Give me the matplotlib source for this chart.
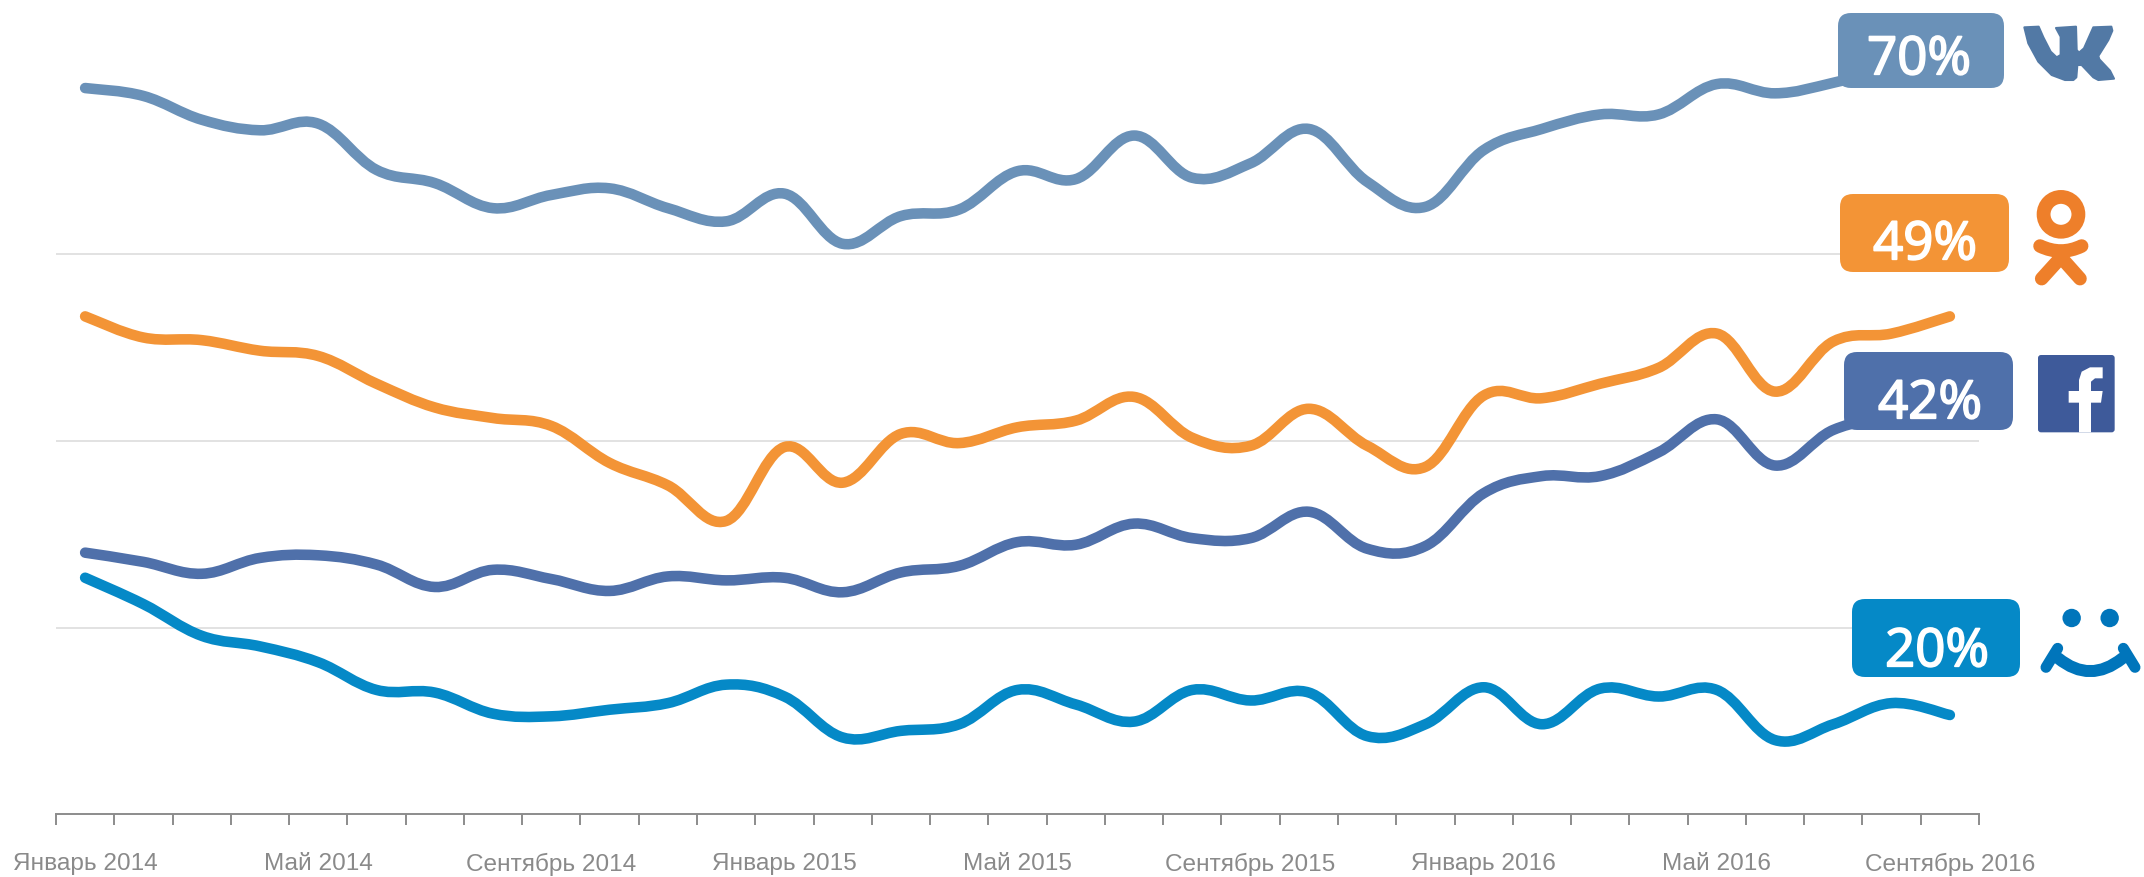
import matplotlib
matplotlib.use("Agg")
import matplotlib.pyplot as plt
import matplotlib.patheffects as pe
import numpy as np
from matplotlib.patches import Circle, FancyBboxPatch, PathPatch, Polygon
from matplotlib.path import Path

# Werte pro Monat, Januar 2014 bis September 2016
months = ["Январь 2014", "", "", "", "Май 2014", "", "", "", "Сентябрь 2014", "", "", "",
          "Январь 2015", "", "", "", "Май 2015", "", "", "", "Сентябрь 2015", "", "", "",
          "Январь 2016", "", "", "", "Май 2016", "", "", "", "Сентябрь 2016"]
vk = [67.5, 66.9, 65.1, 64.3, 64.8, 61.3, 60.3, 58.4, 59.4, 59.9, 58.4, 57.4, 59.5, 55.7, 57.8, 58.3, 61.2,
      60.6, 63.9, 60.7, 61.8, 64.4, 60.4, 58.5, 62.8, 64.4, 65.5, 65.5, 67.8, 67.1, 67.9, 69.1, 69.9]
ok = [50.2, 48.6, 48.4, 47.6, 47.2, 45.1, 43.3, 42.5, 41.9, 39.1, 37.4, 34.7, 40.3, 37.6, 41.3, 40.6, 41.8,
      42.3, 44.1, 41.0, 40.4, 43.2, 40.4, 38.8, 44.2, 44.0, 45.1, 46.3, 48.9, 44.5, 48.3, 48.9, 50.2]
fb = [32.3, 31.6, 30.7, 31.9, 32.1, 31.4, 29.7, 31.0, 30.3, 29.4, 30.5, 30.2, 30.4, 29.3, 30.8, 31.3, 33.1,
      32.9, 34.5, 33.4, 33.4, 35.4, 32.6, 32.8, 36.8, 38.1, 38.1, 39.9, 42.4, 38.9, 41.6, 42.6, 43.3]
mm = [30.4, 28.4, 26.0, 25.2, 24.0, 21.9, 21.7, 20.1, 19.9, 20.4, 20.9, 22.3, 21.4, 18.3, 18.8, 19.3, 21.9,
      20.8, 19.5, 21.9, 21.1, 21.7, 18.4, 19.3, 22.1, 19.3, 22.0, 21.4, 21.9, 18.1, 19.3, 20.9, 20.0]
grid_values = [26.59, 40.76, 54.92]

series = [vk, ok, fb, mm]
colors = ["#6a91b8", "#f39436", "#4f70aa", "#0589c7"]
badges = ["70%", "49%", "42%", "20%"]

W, H = 2144, 877
fig = plt.figure(figsize=(W / 100, H / 100), dpi=100)
ax = fig.add_axes([56 / W, (H - 814) / H, (1979 - 56) / W, 814 / H])


def smooth_path(y):
    # Kurve durch die Monatswerte (Catmull-Rom als Bezier)
    pts = np.column_stack([np.arange(len(y)), y])
    verts = [pts[0]]
    codes = [Path.MOVETO]
    for i in range(len(pts) - 1):
        before = pts[max(i - 1, 0)]
        after = pts[min(i + 2, len(pts) - 1)]
        verts += [pts[i] + (pts[i + 1] - before) / 5.4, pts[i + 1] - (after - pts[i]) / 5.4, pts[i + 1]]
        codes += [Path.CURVE4] * 3
    return Path(verts, codes)


for values, color in zip(series, colors):
    ax.add_patch(PathPatch(smooth_path(values), fc="none", ec=color, lw=7.6, capstyle="round",
                           joinstyle="round", zorder=3))

ax.set_xlim(-0.5, len(months) - 0.5)
ax.set_ylim(12.5, 74.17)
ax.set_yticks(grid_values)
ax.set_yticklabels([])
ax.tick_params(axis="y", length=0)
ax.yaxis.grid(True, color="#e2e2e2", lw=1.4)
ax.set_axisbelow(True)
for side in ["top", "left", "right"]:
    ax.spines[side].set_visible(False)
ax.spines["bottom"].set_color("#8c8c8c")
ax.spines["bottom"].set_linewidth(1.4)

ax.set_xticks(np.arange(len(months) + 1) - 0.5)
ax.set_xticklabels([])
ax.tick_params(axis="x", which="major", length=8, width=1.4, color="#8c8c8c", direction="out")
ax.set_xticks(np.arange(len(months)), minor=True)
ax.set_xticklabels(months, minor=True, fontsize=17.6, family="Liberation Sans", color="#8a8a8a")
ax.tick_params(axis="x", which="minor", length=0, pad=28)

# Ebene in Pixeln fuer Schilder und Logos
over = fig.add_axes([0, 0, 1, 1], facecolor="none")
over.set_xlim(0, W)
over.set_ylim(H, 0)
over.axis("off")

boxes = [(1838, 13, 2004, 88), (1840, 194, 2009, 272), (1844, 352, 2013, 430), (1852, 599, 2020, 677)]
text_pos = [(1919, 54), (1925, 239), (1930, 398), (1937, 646)]
for (x0, y0, x1, y1), color, label, (tx, ty) in zip(boxes, colors, badges, text_pos):
    over.add_patch(FancyBboxPatch((x0 + 13, y0 + 13), x1 - x0 - 26, y1 - y0 - 26,
                                  boxstyle="round,pad=13,rounding_size=13", fc=color, ec="none", zorder=5))
    t = over.text(tx, ty, label, color="white", fontsize=38, family="Open Sans",
                  ha="center", va="center_baseline", zorder=6)
    t.set_path_effects([pe.withStroke(linewidth=1.3, foreground="white")])


def zoom_a(x, y):
    return 1780 + x / 3, y / 3


def zoom_b(x, y):
    return 1780 + x / 3, 330 + y / 3


def stroke(points, color, width, curve=False):
    codes = [Path.MOVETO, Path.CURVE3, Path.CURVE3] if curve else None
    over.add_patch(PathPatch(Path(points, codes), fc="none", ec=color, lw=width * 0.72, capstyle="round",
                             joinstyle="round", zorder=5))


# VK
vk_color = "#5279a5"
vk_shape = [(733, 82), (776, 80), (790, 112), (812, 155), (830, 172), (842, 165), (842, 110), (828, 84),
            (888, 80), (890, 150), (897, 158), (912, 145), (940, 82), (994, 80),
            (997, 92), (985, 120), (955, 168), (958, 178), (990, 212), (1002, 236), (955, 240),
            (940, 232), (905, 195), (892, 195), (889, 232), (880, 240), (855, 240), (815, 225), (775, 185), (745, 130)]
over.add_patch(Polygon([zoom_a(*p) for p in vk_shape], closed=True, fc=vk_color, ec=vk_color, lw=1.5,
                       joinstyle="round", zorder=5))

# OK
ok_color = "#ee7f2a"
over.add_patch(Circle(zoom_a(843, 643), 17.4, fc="none", ec=ok_color, lw=13.8 * 0.72, zorder=5))
stroke([zoom_a(780, 738), zoom_a(843, 768), zoom_a(905, 738)], ok_color, 13.5, curve=True)
stroke([zoom_a(843, 772), zoom_a(785, 836)], ok_color, 13.5)
stroke([zoom_a(843, 772), zoom_a(900, 836)], ok_color, 13.5)

# Facebook
x0, y0 = zoom_b(774, 75)
x1, y1 = zoom_b(1004, 307)
over.add_patch(FancyBboxPatch((x0 + 3, y0 + 3), x1 - x0 - 6, y1 - y0 - 6, boxstyle="round,pad=3,rounding_size=3",
                              fc="#3e5a9a", ec="none", zorder=5))
f_shape = [(897, 307), (897, 218), (866, 218), (866, 183), (897, 183), (897, 150), (905, 125), (930, 112), (968, 112),
           (968, 145), (945, 145), (933, 155), (933, 183), (968, 183), (963, 218), (933, 218), (933, 307)]
over.add_patch(Polygon([zoom_b(*p) for p in f_shape], closed=True, fc="white", ec="none", zorder=6))

# Mail.ru
mm_color = "#0075bb"
over.add_patch(Circle(zoom_b(875, 864), 9.2, fc=mm_color, ec="none", zorder=5))
over.add_patch(Circle(zoom_b(989, 864), 9.2, fc=mm_color, ec="none", zorder=5))
stroke([zoom_b(833, 955), zoom_b(798, 1012)], mm_color, 11)
stroke([zoom_b(1030, 955), zoom_b(1065, 1012)], mm_color, 11)
stroke([zoom_b(835, 985), zoom_b(930, 1062), zoom_b(1027, 985)], mm_color, 12, curve=True)

fig.savefig("out.png", dpi=100)
